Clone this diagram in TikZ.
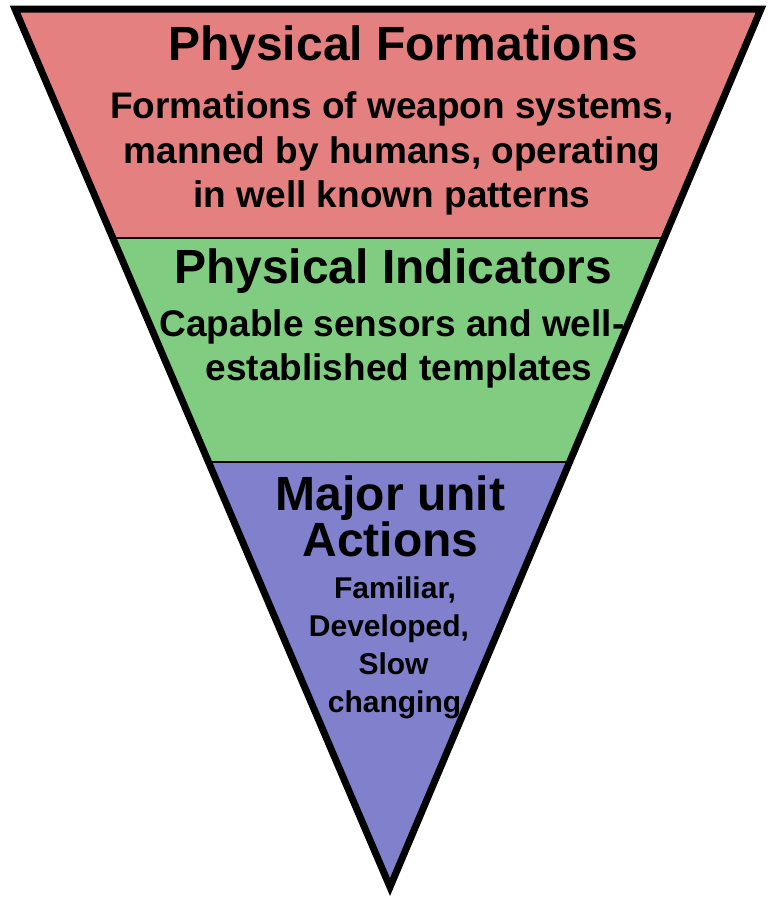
\documentclass[tikz,border=0pt]{standalone}
\usepackage{fontspec}
\setmainfont{Liberation Sans}
\usetikzlibrary{calc}
\definecolor{topred}{RGB}{229,128,128}
\definecolor{midgreen}{RGB}{128,204,128}
\definecolor{lowblue}{RGB}{128,128,204}
\tikzset{
  ttl/.style={anchor=base,inner sep=0pt,font=\bfseries\fontsize{48}{52}\selectfont},
  sub/.style={anchor=base,inner sep=0pt,font=\bfseries\fontsize{37}{42}\selectfont},
  small/.style={anchor=base,inner sep=0pt,font=\bfseries\fontsize{30}{34}\selectfont},
  divider/.style={line width=1.5pt,black},
  outline/.style={line width=7pt,black,line join=miter}
}
\begin{document}
\begin{tikzpicture}[x=1pt,y=-1pt]
\useasboundingbox (0,0) rectangle (769,898);
\coordinate (A) at (15,9);
\coordinate (B) at (761,9);
\coordinate (C) at (390,887);
\coordinate (L1) at ($(A)!0.2608!(C)$);
\coordinate (R1) at ($(B)!0.2608!(C)$);
\coordinate (L2) at ($(A)!0.5160!(C)$);
\coordinate (R2) at ($(B)!0.5160!(C)$);
\fill[topred] (A) -- (B) -- (R1) -- (L1) -- cycle;
\fill[midgreen] (L1) -- (R1) -- (R2) -- (L2) -- cycle;
\fill[lowblue] (L2) -- (R2) -- (C) -- cycle;
\draw[divider] (L1) -- (R1);
\draw[divider] (L2) -- (R2);
\draw[outline] (A) -- (B) -- (C) -- cycle;
% top band
\node[ttl] (t1) at (403,60) {Physical Formations};
\node[sub] (s1a) at (392,118) {Formations of weapon systems,};
\node[sub] (s1b) at (392,163) {manned by humans, operating};
\node[sub] (s1c) at (392,207) {in well known patterns};
% middle band
\node[ttl] (t2) at (393,283) {Physical Indicators};
\node[sub] (s2a) at (392,336) {Capable sensors and well-};
\node[sub] (s2b) at (399,380) {established templates};
% bottom band
\node[ttl] (t3a) at (390.5,510) {Major unit};
\node[ttl] (t3b) at (390.5,556) {Actions};
\node[small] (s3a) at (395,598) {Familiar,};
\node[small] (s3b) at (389,636) {Developed,};
\node[small] (s3c) at (393.5,674) {Slow};
\node[small] (s3d) at (394.5,712) {changing};
\end{tikzpicture}
\end{document}
